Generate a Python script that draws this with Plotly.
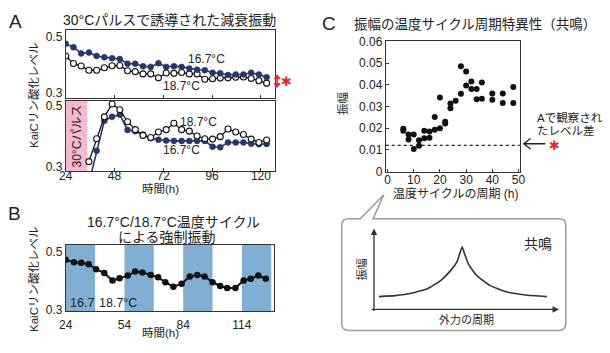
import plotly.graph_objects as go

W, H = 610, 353
FONT = "Liberation Sans, Noto Sans CJK JP, sans-serif"
NAVY = "#27376e"
PINK = "#f8b9cf"
BLUE = "#80afd3"
RED = "#e52a2f"
GRAY = "#333333"


def px(x):
    return x / W


def py(y):
    return 1 - y / H


# ---------------- Panel A data ----------------
t_a = [24.0, 27.8, 31.6, 35.4, 39.2, 43.0, 46.8, 50.6, 54.4, 58.2, 62.0, 65.8, 69.6, 73.4,
       77.2, 81.0, 84.8, 88.6, 92.4, 96.2, 100.0, 103.8, 107.6, 111.4, 115.2, 119.0, 122.8]
a_top_167 = [0.474, 0.462, 0.440, 0.443, 0.431, 0.426, 0.423, 0.420, 0.403, 0.403, 0.394, 0.392, 0.405, 0.392,
             0.394, 0.392, 0.386, 0.382, 0.380, 0.371, 0.369, 0.363, 0.365, 0.365, 0.371, 0.365, 0.355]
a_top_187 = [0.431, 0.404, 0.395, 0.380, 0.380, 0.389, 0.396, 0.397, 0.378, 0.375, 0.367, 0.367, 0.353, 0.370,
             0.369, 0.372, 0.367, 0.367, 0.348, 0.350, 0.352, 0.353, 0.355, 0.356, 0.351, 0.343, 0.334]
t_a_pulse = t_a[3:]
a_bot_187 = [0.316, 0.391, 0.463, 0.505, 0.486, 0.447, 0.421, 0.402, 0.395, 0.413, 0.421, 0.442,
             0.421, 0.416, 0.400, 0.391, 0.390, 0.398, 0.423, 0.413, 0.405, 0.390, 0.379, 0.387]
a_bot_167 = [0.245, 0.352, 0.450, 0.463, 0.470, 0.420, 0.416, 0.405, 0.393, 0.388, 0.385, 0.384,
             0.384, 0.384, 0.384, 0.384, 0.365, 0.363, 0.379, 0.379, 0.379, 0.375, 0.373, 0.374]
pulse_start, pulse_end = 24.0, 34.6
a_xticks = [24, 48, 72, 96, 120]

# ---------------- Panel B data ----------------
t_b = [24.0, 28.2, 31.9, 35.7, 39.5, 43.7, 47.9, 51.5, 55.7, 59.5, 63.2, 67.4, 71.2, 74.9,
       79.0, 83.2, 87.4, 91.2, 94.9, 99.0, 102.9, 106.5, 110.7, 114.9, 118.5, 122.4, 126.2]
b_vals = [0.472, 0.463, 0.461, 0.456, 0.439, 0.426, 0.400, 0.408, 0.417, 0.431, 0.428, 0.419, 0.411, 0.394,
          0.378, 0.389, 0.414, 0.419, 0.414, 0.394, 0.381, 0.374, 0.374, 0.400, 0.406, 0.417, 0.406]
cold_starts = [24, 54, 84, 114]
cold_len = 15
b_xticks = [24, 54, 84, 114]

# ---------------- Panel C data ----------------
c_period = [6, 6, 8, 8, 10, 10, 12, 12, 14, 14, 16, 16, 18, 18, 20, 20, 22, 22, 24, 24, 26,
            28, 28, 30, 30, 32, 32, 34, 34, 36, 36, 40, 40, 44, 44, 48, 48]
c_amp = [0.0197, 0.0188, 0.0171, 0.0147, 0.0171, 0.0104, 0.0119, 0.0144, 0.0188, 0.0153, 0.0185,
         0.0156, 0.0193, 0.0252, 0.0200, 0.0341, 0.0230, 0.0222, 0.0292, 0.0314, 0.0326, 0.0359,
         0.0486, 0.0462, 0.0397, 0.0415, 0.0381, 0.0381, 0.0333, 0.0411, 0.0336, 0.0360, 0.0331,
         0.0360, 0.0316, 0.0390, 0.0316]
level_diff = 0.012
c_xticks = [0, 10, 20, 30, 40, 50]
c_yticks = [0, 0.01, 0.02, 0.03, 0.04, 0.05, 0.06]
c_yticktext = ["0", "0.01", "0.02", "0.03", "0.04", "0.05", "0.06"]

# schematic resonance curve (inset)
res_x = [0.27, 1.15, 2.04, 2.93, 3.62, 4.15, 4.52, 4.79, 4.88, 5.14, 5.59, 6.29, 7.18, 8.24, 9.39]
res_y = [1.60, 1.72, 2.01, 2.61, 3.61, 4.82, 6.02, 7.83, 7.23, 5.62, 4.22, 3.01, 2.21, 1.81, 1.60]

fig = go.Figure()


def filled(x, y, xa, ya):
    return go.Scatter(x=x, y=y, xaxis=xa, yaxis=ya, mode="lines+markers",
                      line=dict(color=NAVY, width=1.6),
                      marker=dict(color=NAVY, size=6, line=dict(color=NAVY, width=0.5)),
                      showlegend=False, hoverinfo="skip")


def opened(x, y, xa, ya):
    return go.Scatter(x=x, y=y, xaxis=xa, yaxis=ya, mode="lines+markers",
                      line=dict(color="#111111", width=1.3),
                      marker=dict(color="white", size=6, line=dict(color="#111111", width=1.1)),
                      showlegend=False, hoverinfo="skip")


fig.add_trace(opened(t_a, a_top_187, "x", "y"))
fig.add_trace(filled(t_a, a_top_167, "x", "y"))
fig.add_trace(filled(t_a_pulse, a_bot_167, "x2", "y2"))
fig.add_trace(opened(t_a_pulse, a_bot_187, "x2", "y2"))

fig.add_trace(go.Scatter(x=t_b, y=b_vals, xaxis="x3", yaxis="y3", mode="lines+markers",
                         line=dict(color="#111111", width=2),
                         marker=dict(color="#111111", size=6.5),
                         showlegend=False, hoverinfo="skip"))

fig.add_trace(go.Scatter(x=res_x, y=res_y, xaxis="x4", yaxis="y4", mode="lines",
                         line=dict(color="#333333", width=1.6, shape="spline", smoothing=0.4),
                         showlegend=False, hoverinfo="skip"))

fig.add_trace(go.Scatter(x=c_period, y=c_amp, xaxis="x5", yaxis="y5", mode="markers",
                         marker=dict(color="#111111", size=6),
                         showlegend=False, hoverinfo="skip"))

tickfont = dict(family=FONT, size=12, color="#222222")
box = dict(showline=True, mirror=True, linecolor=GRAY, linewidth=1, showgrid=False,
           zeroline=False, tickfont=tickfont, ticks="inside", ticklen=3, tickcolor=GRAY)

fig.update_layout(
    width=W, height=H, autosize=False,
    margin=dict(l=0, r=0, t=0, b=0),
    paper_bgcolor="white", plot_bgcolor="white",
    font=dict(family=FONT, color="#222222"),
    xaxis=dict(domain=[px(60), px(274)], range=[24, 127], anchor="y",
               tickvals=a_xticks[1:], showticklabels=False, **box),
    yaxis=dict(domain=[py(95), py(25)], range=[0.283, 0.523], anchor="x",
               tickvals=[0.3, 0.5], ticktext=["0.3", "0.5"], **{**box, "ticks": ""}),
    xaxis2=dict(domain=[px(60), px(274)], range=[24, 127], anchor="y2",
                tickvals=a_xticks, ticklabelstandoff=-7, **box),
    yaxis2=dict(domain=[py(171.7), py(98.3)], range=[0.284, 0.516], anchor="x2",
                tickvals=[0.3, 0.5], ticktext=["0.3", "0.5"], **{**box, "ticks": ""}),
    xaxis3=dict(domain=[px(60), px(273)], range=[24, 130.5], anchor="y3",
                tickvals=b_xticks, ticklabelstandoff=2, **{**box, "ticks": ""}),
    yaxis3=dict(domain=[py(317), py(248)], range=[0.2933, 0.5233], anchor="x3",
                tickvals=[0.3, 0.5], ticktext=["0.3", "0.5"], **{**box, "ticks": ""}),
    xaxis4=dict(domain=[px(375), px(563)], range=[0, 10], anchor="y4", visible=False),
    yaxis4=dict(domain=[py(315), py(232)], range=[0, 10], anchor="x4", visible=False),
    xaxis5=dict(domain=[px(387), px(524)], range=[-0.7, 50.5], anchor="y5",
                tickvals=c_xticks, ticklabelstandoff=-3, **box),
    yaxis5=dict(domain=[py(172), py(36)], range=[-0.0001, 0.0604], anchor="x5",
                tickvals=c_yticks, ticktext=c_yticktext, **box),
)

shapes = []
# pink pulse
shapes.append(dict(type="rect", xref="x2", yref="y2 domain", x0=pulse_start, x1=pulse_end,
                   y0=0, y1=1, fillcolor=PINK, line=dict(width=0), layer="below"))
# blue cold bands
for s in cold_starts:
    shapes.append(dict(type="rect", xref="x3", yref="y3 domain", x0=s, x1=s + cold_len,
                       y0=0, y1=1, fillcolor=BLUE, line=dict(width=0), layer="below"))
# dotted level line in C
shapes.append(dict(type="line", xref="x5 domain", yref="y5", x0=0, x1=1, y0=level_diff, y1=level_diff,
                   line=dict(color="#222222", width=1.2, dash="dot")))


def P(x, y):
    return f"{px(x):.5f},{py(y):.5f}"


# speech bubble around the inset
L, R, T, B, r = 342, 571, 221, 337, 7
bubble = (f"M{P(L + r, T)} L{P(361, T)} L{P(385, 196)} L{P(374, T)} L{P(R - r, T)} "
          f"Q{P(R, T)} {P(R, T + r)} L{P(R, B - r)} Q{P(R, B)} {P(R - r, B)} "
          f"L{P(L + r, B)} Q{P(L, B)} {P(L, B - r)} L{P(L, T + r)} Q{P(L, T)} {P(L + r, T)} Z")
shapes.append(dict(type="path", xref="paper", yref="paper", path=bubble,
                   fillcolor="white", line=dict(color="#9c9c9c", width=1.5), layer="below"))
# left arrow in C
shapes.append(dict(type="path", xref="paper", yref="paper",
                   path=f"M{P(550, 143)} L{P(528, 143)} M{P(535, 137.5)} L{P(528, 143)} L{P(535, 148.5)}",
                   line=dict(color="#222222", width=1.3)))
# red double arrow next to panel A
shapes.append(dict(type="path", xref="paper", yref="paper",
                   path=f"M{P(276, 73)} L{P(276, 83)}",
                   line=dict(color=RED, width=1.5)))
shapes.append(dict(type="path", xref="paper", yref="paper",
                   path=f"M{P(273, 75.5)} L{P(276, 71.5)} L{P(279, 75.5)} Z",
                   fillcolor=RED, line=dict(color=RED, width=1)))
shapes.append(dict(type="path", xref="paper", yref="paper",
                   path=f"M{P(273, 80.5)} L{P(276, 84.5)} L{P(279, 80.5)} Z",
                   fillcolor=RED, line=dict(color=RED, width=1)))
fig.update_layout(shapes=shapes)

ann = []


def text(x, y, s, size=12, color="#222222", angle=0, xanchor="center", family=FONT):
    ann.append(dict(x=px(x), y=py(y), xref="paper", yref="paper", text=s, showarrow=False,
                    xanchor=xanchor, yanchor="middle", textangle=angle,
                    font=dict(family=family, size=size, color=color)))


# panel letters
text(9, 16, "A", size=19)
text(8, 215, "B", size=19)
text(329, 18, "C", size=19)
# titles
text(166, 15, "30°Cパルスで誘導された減衰振動", size=14)
text(170, 224, "16.7°C/18.7°C温度サイクル", size=14)
text(163, 240, "による強制振動", size=14)
text(353, 19, "振幅の温度サイクル周期特異性（共鳴）", size=13.5, xanchor="left")
# axis titles
text(27, 93, "KaiCリン酸化レベル", size=11.5, angle=-90)
text(27, 284, "KaiCリン酸化レベル", size=11.5, angle=-90)
text(157, 190, "時間(h)", size=11.5)
text(157, 340, "時間(h)", size=11.5)
text(343, 101, "振幅", size=11.5, angle=-90)
text(458, 195, "温度サイクルの周期 (h)", size=12)
# series labels
text(204, 55, "16.7°C", size=12)
text(178, 83, "18.7°C", size=12)
text(196, 120, "18.7°C", size=12)
text(178, 150, "16.7°C", size=12)
text(72, 135, "30°Cパルス", size=12, angle=-90)
text(62, 308, "16.7", size=12.5, xanchor="left")
text(92, 308, "18.7°C", size=12.5, xanchor="left")
# red marks
text(286, 78, "✱", size=13, color=RED, family="DejaVu Sans")
text(559, 145, "✱", size=13, color=RED, family="DejaVu Sans")
text(540, 116, "Aで観察され", size=11.5, xanchor="left")
text(540, 130, "たレベル差", size=11.5, xanchor="left")
# inset texts
text(543, 247, "共鳴", size=14)
text(363, 273, "振幅", size=11, angle=-90)
text(470, 326, "外力の周期", size=11)

# inset axis arrows
ann.append(dict(x=px(375), y=py(231), xref="paper", yref="paper", ax=0, ay=84, text="",
                showarrow=True, arrowhead=2, arrowsize=1, arrowwidth=1.3, arrowcolor="#333333"))
ann.append(dict(x=px(564), y=py(315), xref="paper", yref="paper", ax=-189, ay=0, text="",
                showarrow=True, arrowhead=2, arrowsize=1, arrowwidth=1.3, arrowcolor="#333333"))

fig.update_layout(annotations=ann)
fig.write_html("out.html")
